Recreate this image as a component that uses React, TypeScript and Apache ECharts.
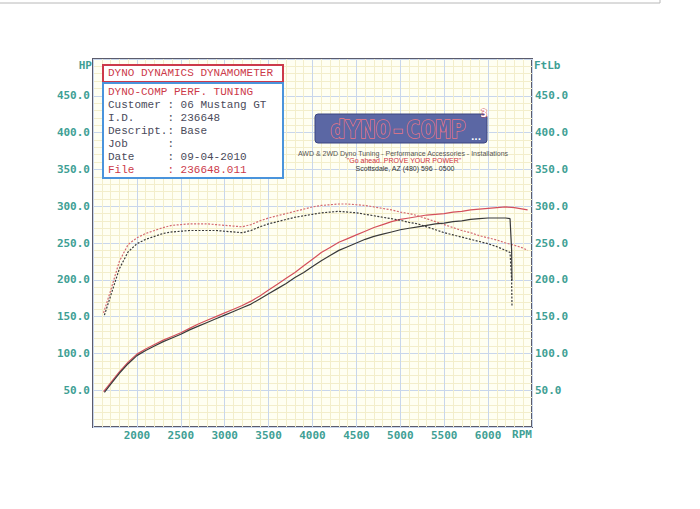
import React, { useEffect, useRef } from "react";
import * as echarts from "echarts";

// ---- data ----
const rpmRun1 = [1620,1700,1800,1900,2000,2100,2200,2300,2400,2500,2600,2700,2800,2900,3000,3100,3200,3300,3400,3500,3600,3700,3800,3900,4000,4100,4200,4300,4400,4500,4600,4700,4800,4900,5000,5100,5200,5300,5400,5500,5600,5700,5800,5900,6000,6100,6200,6300,6400,6450];
const hpRun1 = [48,60,75,88,99,106,112,118,123,128,134,140,145,150,155,160,165,171,178,186,194,202,210,219,228,237,244,251,256,261,266,271,275,279,282,284,286,288,289,290,292,293,295,296,297,298,299,298,296,295];
const tqRun1 = [155,185,225,248,257,263,267,271,274,275,276,276,276,275,274,273,272,275,280,284,287,290,293,296,299,301,302,303,303,302,301,299,297,295,292,290,287,283,279,275,271,267,264,260,257,254,250,247,243,240];

const rpmRun2 = [1630,1700,1800,1900,2000,2100,2200,2300,2400,2500,2600,2700,2800,2900,3000,3100,3200,3300,3400,3500,3600,3700,3800,3900,4000,4100,4200,4300,4400,4500,4600,4700,4800,4900,5000,5100,5200,5300,5400,5500,5600,5700,5800,5900,6000,6100,6200,6250,6268,6272];
const hpRun2 = [47,58,73,86,97,104,110,116,121,126,132,137,142,147,152,157,162,167,174,181,188,195,203,210,218,226,233,240,245,250,255,259,262,265,268,270,272,274,276,277,279,280,282,283,284,284,284,283,240,199];
const tqRun2 = [152,178,215,238,249,255,259,263,265,266,267,267,267,267,266,265,264,267,272,276,279,282,285,287,289,291,292,293,292,291,289,287,285,283,281,278,276,272,268,264,261,258,255,252,249,245,240,237,200,165];

const infoLines = [
  { t: "DYNO-COMP PERF. TUNING", red: true },
  { t: "Customer : 06 Mustang GT", red: false },
  { t: "I.D.     : 236648", red: false },
  { t: "Descript.: Base", red: false },
  { t: "Job      :", red: false },
  { t: "Date     : 09-04-2010", red: false },
  { t: "File     : 236648.011", red: true },
];

const TEAL = "#3f9f95";
const RED = "#cc3a4a";
const DARK = "#4a4a5a";

function zip(xs: number[], ys: number[]) {
  return xs.map((x, i) => [x, ys[i]]);
}

export default function App() {
  const ref = useRef<HTMLDivElement>(null);
  useEffect(() => {
    const chart = echarts.init(ref.current!, null, { renderer: "svg" });
    const axisLabel = {
      color: TEAL,
      fontFamily: "DejaVu Sans Mono",
      fontWeight: "bold" as const,
      fontSize: 11,
    };
    const infoText = infoLines.map((l, i) => ({
      type: "text",
      left: 108,
      top: 86 + i * 13,
      style: {
        text: l.t,
        fill: l.red ? RED : DARK,
        font: "11px 'Liberation Mono'",
      },
    }));
    chart.setOption({
      animation: false,
      backgroundColor: "#ffffff",
      grid: {
        left: 93,
        right: 168,
        top: 59,
        bottom: 82,
        show: true,
        backgroundColor: "#fffff2",
        borderColor: "#5c5c6c",
        borderWidth: 2,
        z: 0,
      },
      xAxis: {
        type: "value",
        min: 1500,
        max: 6500,
        interval: 500,
        axisLine: { show: false },
        axisTick: { show: false },
        axisLabel: {
          ...axisLabel,
          margin: 3,
          formatter: (v: number) => (v === 1500 || v === 6500 ? "" : String(v)),
        },
        splitLine: { show: true, lineStyle: { color: "#c8d6ec", width: 1 } },
        minorTick: { show: false, splitNumber: 5 },
        minorSplitLine: { show: true, lineStyle: { color: "#f3eecb", width: 1 } },
      },
      yAxis: [
        {
          type: "value",
          min: 0,
          max: 500,
          interval: 50,
          axisLine: { show: false },
          axisTick: { show: false },
          axisLabel: {
            ...axisLabel,
            margin: 3,
            formatter: (v: number) => (v === 0 || v === 500 ? "" : v.toFixed(1)),
          },
          splitLine: { show: true, lineStyle: { color: "#c8d6ec", width: 1 } },
          minorTick: { show: false, splitNumber: 5 },
          minorSplitLine: { show: true, lineStyle: { color: "#f3eecb", width: 1 } },
        },
        {
          type: "value",
          position: "right",
          min: 0,
          max: 500,
          interval: 50,
          axisLine: { show: false },
          axisTick: { show: false },
          axisLabel: {
            ...axisLabel,
            margin: 3,
            formatter: (v: number) => (v === 0 || v === 500 ? "" : v.toFixed(1)),
          },
          splitLine: { show: false },
        },
      ],
      series: [
        {
          type: "line",
          name: "Power run 1",
          data: zip(rpmRun1, hpRun1),
          showSymbol: false,
          lineStyle: { color: "#d4505c", width: 1.2 },
          z: 3,
        },
        {
          type: "line",
          name: "Torque run 1",
          yAxisIndex: 1,
          data: zip(rpmRun1, tqRun1),
          showSymbol: false,
          lineStyle: { color: "#d46a70", width: 1.2, type: [2, 1.5] },
          z: 3,
        },
        {
          type: "line",
          name: "Power run 2",
          data: zip(rpmRun2, hpRun2),
          showSymbol: false,
          lineStyle: { color: "#3a3a3a", width: 1.2 },
          z: 4,
        },
        {
          type: "line",
          name: "Torque run 2",
          yAxisIndex: 1,
          data: zip(rpmRun2, tqRun2),
          showSymbol: false,
          lineStyle: { color: "#3a3a3a", width: 1.2, type: [2, 1.5] },
          z: 4,
        },
      ],
      graphic: [
        { type: "line", shape: { x1: 0, y1: 3, x2: 660, y2: 3 }, style: { stroke: "#b8b8b8", lineWidth: 1 } },
        { type: "line", shape: { x1: 660, y1: 0, x2: 660, y2: 3 }, style: { stroke: "#b8b8b8", lineWidth: 1 } },
        {
          type: "text",
          x: 92,
          y: 65,
          style: { text: "HP", fill: TEAL, font: "bold 11px 'DejaVu Sans Mono'", align: "right", verticalAlign: "middle" },
        },
        {
          type: "text",
          x: 534,
          y: 65,
          style: { text: "FtLb", fill: TEAL, font: "bold 11px 'DejaVu Sans Mono'", align: "left", verticalAlign: "middle" },
        },
        {
          type: "text",
          x: 522,
          y: 434,
          style: { text: "RPM", fill: TEAL, font: "bold 11px 'DejaVu Sans Mono'", align: "center", verticalAlign: "middle" },
        },
        // header box
        {
          type: "rect",
          shape: { x: 103, y: 65, width: 180, height: 17 },
          style: { fill: "#ffffff", stroke: RED, lineWidth: 2 },
          z: 10,
        },
        {
          type: "text",
          left: 108,
          top: 67,
          z: 11,
          style: { text: "DYNO DYNAMICS DYNAMOMETER", fill: RED, font: "11px 'Liberation Mono'" },
        },
        {
          type: "rect",
          shape: { x: 103, y: 83, width: 180, height: 95 },
          style: { fill: "#ffffff", stroke: "#4a94dc", lineWidth: 2 },
          z: 10,
        },
        ...infoText.map((t) => ({ ...t, z: 11 })),
        // logo
        {
          type: "rect",
          shape: { x: 315, y: 114, width: 172, height: 29, r: 3 },
          style: { fill: "#5b67a4", stroke: "#3a4480", lineWidth: 1 },
          z: 10,
        },
        {
          type: "text",
          x: 398,
          y: 129,
          z: 11,
          style: {
            text: "dYNO-COMP",
            fill: "#5b67a4",
            stroke: "#ea7684",
            lineWidth: 1.4,
            font: "bold 25px 'DejaVu Sans Mono'",
            align: "center",
            verticalAlign: "middle",
          },
        },
        {
          type: "text",
          x: 484,
          y: 113,
          z: 11,
          style: { text: "3", fill: "#ffffff", stroke: RED, lineWidth: 0.8, font: "bold 10px 'DejaVu Sans'", align: "center", verticalAlign: "middle" },
        },
        {
          type: "text",
          x: 476,
          y: 137,
          z: 11,
          style: { text: "...", fill: "#ffffff", font: "bold 9px 'DejaVu Sans'", align: "center", verticalAlign: "middle" },
        },
        {
          type: "text",
          x: 403,
          y: 153,
          z: 11,
          style: {
            text: "AWD & 2WD Dyno Tuning - Performance Accessories - Installations",
            fill: "#555555",
            font: "7px 'Liberation Sans'",
            align: "center",
            verticalAlign: "middle",
          },
        },
        {
          type: "text",
          x: 404,
          y: 160.5,
          z: 11,
          style: {
            text: "\"Go ahead..PROVE YOUR POWER\"",
            fill: "#d03040",
            font: "7px 'Liberation Sans'",
            align: "center",
            verticalAlign: "middle",
          },
        },
        {
          type: "text",
          x: 405,
          y: 168.5,
          z: 11,
          style: {
            text: "Scottsdale, AZ (480) 596 - 0500",
            fill: "#333333",
            font: "7px 'Liberation Sans'",
            align: "center",
            verticalAlign: "middle",
          },
        },
      ],
    });
    return () => chart.dispose();
  }, []);
  return (
    <div
      ref={ref}
      style={{ position: "fixed", left: 0, top: 0, width: 700, height: 509 }}
    />
  );
}
